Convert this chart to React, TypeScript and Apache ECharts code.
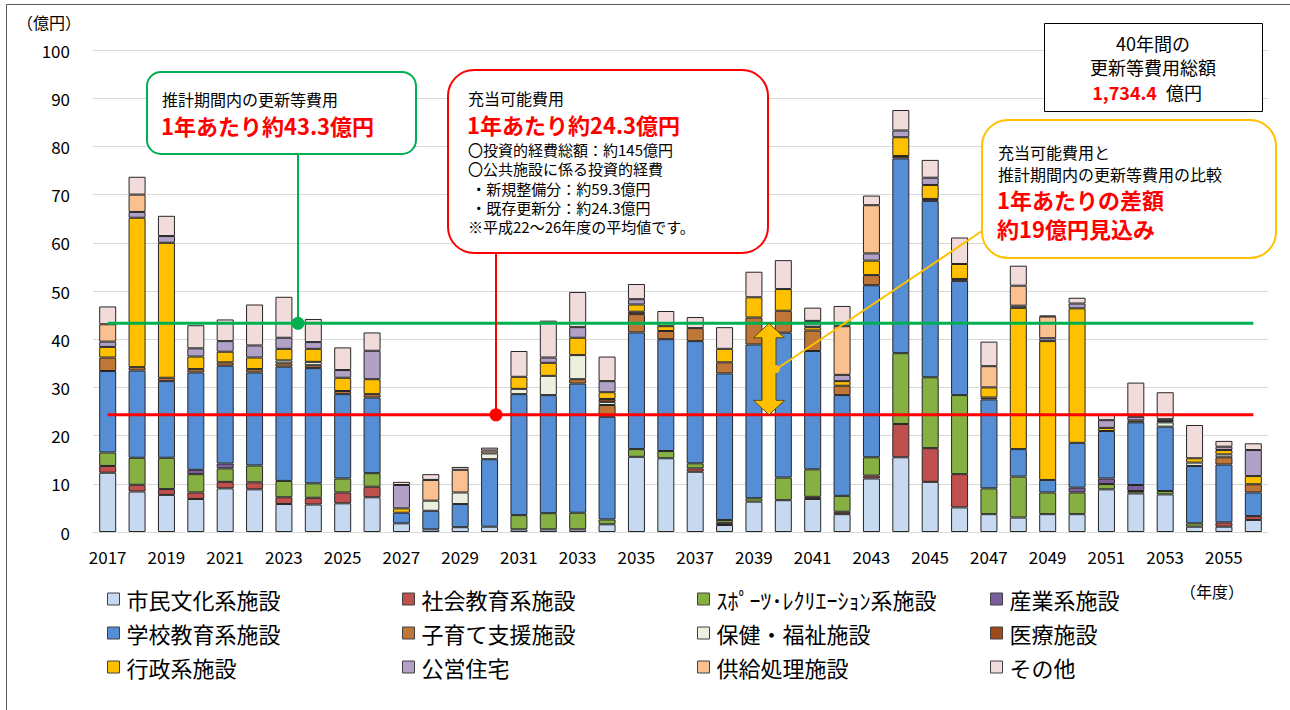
import React, { useEffect, useRef } from "react";
import * as echarts from "echarts";

const YEARS = [
  "2017", "2018", "2019", "2020", "2021", "2022", "2023", "2024", "2025", "2026",
  "2027", "2028", "2029", "2030", "2031", "2032", "2033", "2034", "2035", "2036",
  "2037", "2038", "2039", "2040", "2041", "2042", "2043", "2044", "2045", "2046",
  "2047", "2048", "2049", "2050", "2051", "2052", "2053", "2054", "2055", "2056",
];

const Y_TICKS_MAX = 100;
const Y_TICK_STEP = 10;

const NAMES = [
  "市民文化系施設", "社会教育系施設", "ｽﾎﾟｰﾂ･ﾚｸﾘｴｰｼｮﾝ系施設", "産業系施設",
  "学校教育系施設", "子育て支援施設", "保健・福祉施設", "医療施設",
  "行政系施設", "公営住宅", "供給処理施設", "その他",
];

const COLORS = [
  "#c6d9f1", "#c0504d", "#87b043", "#7b5f9c",
  "#558ed5", "#bf7637", "#ebf1de", "#9e4a1c",
  "#ffc000", "#b2a1c7", "#fac090", "#f2dcdb",
];

const shimin = [12.3, 8.4, 7.7, 6.85, 9.05, 8.85, 5.8, 5.7, 5.95, 7.2, 1.8, 0.55, 1.0, 1.1, 0.55, 0.55, 0.55, 1.6, 15.6, 15.3, 12.5, 1.45, 6.3, 6.6, 6.85, 3.7, 11.1, 15.5, 10.4, 5.1, 3.7, 3.0, 3.7, 3.7, 8.85, 8.0, 7.8, 1.1, 1.1, 2.5];
const shakai = [1.4, 1.4, 1.2, 1.35, 1.35, 1.45, 1.4, 1.4, 2.25, 2.2, 0, 0, 0, 0, 0, 0, 0, 0, 0, 0, 0.7, 0.45, 0, 0, 0.45, 0.5, 0.6, 6.9, 7.0, 6.9, 0, 0, 0, 0, 0, 0, 0, 0, 0.9, 0.8];
const sports = [2.8, 5.6, 6.5, 3.8, 2.8, 3.5, 3.4, 3.0, 2.9, 2.8, 0, 0, 0, 0, 2.95, 3.35, 3.45, 1.0, 1.6, 1.5, 1.05, 0.6, 0.7, 4.7, 5.7, 3.3, 3.8, 14.7, 14.7, 16.4, 5.35, 8.5, 4.5, 4.5, 1.1, 0.5, 0.7, 0.7, 0, 0];
const sangyo = [0, 0, 0, 0.9, 1.0, 0, 0, 0, 0, 0, 0, 0, 0, 0, 0, 0, 0, 0, 0, 0, 0, 0, 0, 0, 0, 0, 0, 0, 0, 0, 0, 0, 0, 1.0, 1.15, 1.25, 0, 0, 0, 0];
const gakko = [16.9, 18.1, 15.9, 20.2, 20.3, 19.3, 23.7, 23.9, 17.5, 15.7, 2.2, 3.85, 4.8, 14.0, 25.1, 24.5, 26.8, 21.3, 24.2, 23.2, 25.35, 30.4, 31.9, 30.05, 24.55, 20.9, 35.7, 40.4, 36.6, 23.7, 18.45, 5.7, 2.6, 9.3, 9.85, 13.0, 13.35, 11.9, 12.0, 4.9];
const kosodate = [2.8, 0.7, 0.7, 0.7, 0.7, 0.7, 0.7, 0.6, 0.65, 0.7, 0, 0, 0, 0, 0, 0, 0.9, 2.45, 3.8, 1.7, 2.7, 2.3, 5.6, 4.55, 4.25, 1.95, 2.1, 0, 0, 0, 0, 0, 0, 0, 0, 0, 0, 0, 1.5, 1.7];
const hoken = [0, 0, 0, 0, 0, 0, 0.6, 0.7, 0, 0, 0, 2.1, 2.4, 1.2, 1.1, 4.0, 5.0, 0.65, 0, 0, 0, 0, 0, 0, 0, 0, 0, 0, 0, 0, 0, 0, 0, 0, 0, 0, 0.9, 0.7, 0.6, 0];
const iryo = [0, 0, 0, 0, 0, 0, 0, 0, 0, 0, 0, 0, 0, 0, 0, 0, 0, 0.6, 0.5, 0, 0, 0, 0, 0, 0, 0, 0, 0.5, 0.4, 0.4, 0.4, 0, 0, 0, 0, 0.4, 0.3, 0, 0, 0];
const gyosei = [2.2, 31.0, 28.0, 2.6, 2.2, 2.4, 2.4, 2.7, 2.75, 3.1, 0.9, 0, 0, 0, 2.5, 2.7, 3.6, 1.4, 1.5, 1.0, 0, 2.8, 4.2, 4.5, 0.7, 0.95, 3.0, 3.9, 2.9, 3.1, 2.1, 29.3, 28.8, 27.9, 0.65, 0, 0, 0.9, 0.9, 1.7];
const koei = [1.1, 1.2, 1.4, 1.7, 2.2, 2.5, 2.3, 1.4, 1.6, 5.9, 4.85, 0, 0, 0, 0, 1.1, 2.2, 2.3, 1.1, 0, 0, 0, 0, 0, 1.3, 1.3, 1.5, 1.4, 1.5, 0, 0, 0.45, 0.6, 1.0, 1.6, 0.75, 0.35, 0, 0.7, 5.4];
const kyokyu = [3.6, 3.6, 0, 0, 0, 0, 0, 0, 0, 0, 0, 4.3, 4.7, 0.6, 0, 0, 0, 0, 0, 0, 0, 0, 0, 0, 0, 10.1, 10.0, 0, 0, 0, 4.4, 4.15, 4.5, 0, 0, 0, 0, 0, 0, 0];
const sonota = [3.7, 3.7, 4.2, 4.8, 4.5, 8.5, 8.5, 4.8, 4.7, 3.8, 0.65, 1.2, 0.6, 0.6, 5.35, 7.65, 7.3, 5.1, 3.15, 3.15, 2.3, 4.5, 5.3, 6.0, 2.75, 4.2, 2.0, 4.25, 3.7, 5.5, 5.1, 4.15, 0.2, 1.2, 1.1, 7.1, 5.6, 6.9, 1.2, 1.4];

const SERIES_VALUES = [shimin, shakai, sports, sangyo, gakko, kosodate, hoken, iryo, gyosei, koei, kyokyu, sonota];

const GREEN_LEVEL = 43.3;
const RED_LEVEL = 24.3;

const FONT = "'Noto Sans CJK JP', 'Noto Sans', sans-serif";

export default function App() {
  const ref = useRef<HTMLDivElement>(null);

  useEffect(() => {
    const chart = echarts.init(ref.current!, null, { renderer: "svg" });

    const LEG_X = [107, 402, 697, 990];
    const LEG_Y = [588, 622, 656];

    const barSeries = NAMES.map((name, i) => ({
      name,
      type: "bar",
      stack: "total",
      barWidth: 17,
      data: SERIES_VALUES[i].map((v) => (v === 0 ? "-" : v)),
      itemStyle: { color: COLORS[i], borderColor: "#262626", borderWidth: 1 },
      silent: true,
    }));

    const levelLine = (level: number, color: string) => ({
      type: "line",
      data: [
        [YEARS[0], level],
        [YEARS[YEARS.length - 1], level],
      ],
      symbol: "none",
      lineStyle: { color, width: 3 },
      silent: true,
      z: 5,
    });

    const legends = NAMES.map((name, i) => ({
      data: [name],
      left: LEG_X[i % 4],
      top: LEG_Y[Math.floor(i / 4)],
      padding: 0,
      icon: "rect",
      itemWidth: 12,
      itemHeight: 12,
      itemGap: 0,
      selectedMode: false,
      itemStyle: { borderColor: "#404040", borderWidth: 1 },
      textStyle: { fontSize: 22, color: "#000", fontFamily: FONT, padding: [0, 0, 0, 2] },
    }));

    const option: any = {
      animation: false,
      backgroundColor: "#fff",
      textStyle: { fontFamily: FONT },
      grid: { left: 93, right: 22, top: 50, bottom: 178, containLabel: false },
      legend: legends,
      xAxis: {
        type: "category",
        data: YEARS,
        boundaryGap: true,
        axisLine: { show: true, lineStyle: { color: "#d9d9d9", width: 1 } },
        axisTick: { show: false },
        axisLabel: { interval: 1, fontSize: 17, color: "#000", margin: 16, fontFamily: FONT },
        splitLine: { show: false },
      },
      yAxis: {
        type: "value",
        min: 0,
        max: Y_TICKS_MAX,
        interval: Y_TICK_STEP,
        axisLine: { show: false },
        axisTick: { show: false },
        axisLabel: { fontSize: 17, color: "#000", margin: 23, fontFamily: FONT },
        splitLine: { lineStyle: { color: "#d9d9d9", width: 1 } },
      },
      series: [
        ...barSeries,
        levelLine(GREEN_LEVEL, "#00b050"),
        levelLine(RED_LEVEL, "#ff0000"),
      ],
    };

    chart.setOption(option);

    const yG = chart.convertToPixel({ yAxisIndex: 0 }, GREEN_LEVEL) as number;
    const yR = chart.convertToPixel({ yAxisIndex: 0 }, RED_LEVEL) as number;

    const txt = (text: string, x: number, y: number, size: number, opts: any = {}) => ({
      type: "text",
      z: 20,
      silent: true,
      style: {
        text,
        x,
        y,
        fill: opts.fill || "#000",
        fontSize: size,
        fontWeight: opts.bold ? "bold" : "normal",
        fontFamily: FONT,
        align: opts.align || "left",
        verticalAlign: "middle",
      },
    });

    const ax = 769;
    const hw = 15.5;
    const sw = 7;
    const hh = 14.5;
    const arrowPts = [
      [ax, yG],
      [ax + hw, yG + hh],
      [ax + sw, yG + hh],
      [ax + sw, yR - hh],
      [ax + hw, yR - hh],
      [ax, yR],
      [ax - hw, yR - hh],
      [ax - sw, yR - hh],
      [ax - sw, yG + hh],
      [ax - hw, yG + hh],
    ];

    const graphic: any[] = [
      // outer frame
      { type: "rect", z: 1, silent: true, shape: { x: 6.5, y: 4.5, width: 1300, height: 720 }, style: { fill: "none", stroke: "#595959", lineWidth: 1 } },
      // axis unit labels
      txt("（億円）", 17, 22, 16),
      txt("（年度）", 1212, 591, 16, { align: "center" }),

      // total box
      { type: "rect", z: 15, silent: true, shape: { x: 1044.5, y: 23.5, width: 218, height: 88 }, style: { fill: "#fff", stroke: "#000", lineWidth: 1 } },
      txt("40年間の", 1153, 43, 18, { align: "center" }),
      txt("更新等費用総額", 1153, 67, 18, { align: "center" }),
      txt("1,734.4", 1157, 92, 18, { align: "right", bold: true, fill: "#ff0000" }),
      txt("億円", 1166, 92, 18),

      // green box
      { type: "line", z: 12, silent: true, shape: { x1: 298, y1: 154, x2: 298, y2: yG }, style: { stroke: "#00b050", lineWidth: 2 } },
      { type: "circle", z: 12, silent: true, shape: { cx: 298, cy: yG, r: 6.5 }, style: { fill: "#00b050" } },
      { type: "rect", z: 15, silent: true, shape: { x: 147, y: 72, width: 269, height: 82, r: 14 }, style: { fill: "#fff", stroke: "#00b050", lineWidth: 2 } },
      txt("推計期間内の更新等費用", 162, 99, 16),
      txt("1年あたり約43.3億円", 161, 125, 22, { bold: true, fill: "#ff0000" }),

      // red box
      { type: "line", z: 12, silent: true, shape: { x1: 496, y1: 253, x2: 496, y2: yR }, style: { stroke: "#ff0000", lineWidth: 2 } },
      { type: "circle", z: 12, silent: true, shape: { cx: 496, cy: yR, r: 6.5 }, style: { fill: "#ff0000" } },
      { type: "rect", z: 15, silent: true, shape: { x: 448, y: 70, width: 320, height: 183, r: 26 }, style: { fill: "#fff", stroke: "#ff0000", lineWidth: 2 } },
      txt("充当可能費用", 468, 98, 16),
      txt("1年あたり約24.3億円", 467, 124, 22, { bold: true, fill: "#ff0000" }),
      txt("〇投資的経費総額：約145億円", 468, 149, 15),
      txt("〇公共施設に係る投資的経費", 468, 168, 15),
      txt(" ・新規整備分：約59.3億円", 468, 188, 15),
      txt(" ・既存更新分：約24.3億円", 468, 207, 15),
      txt("※平成22～26年度の平均値です。", 468, 226, 15),

      // difference arrow and yellow box
      { type: "polygon", z: 12, silent: true, shape: { points: arrowPts }, style: { fill: "#ffc000", stroke: "#5a4a10", lineWidth: 1 } },
      { type: "line", z: 13, silent: true, shape: { x1: 778, y1: 368, x2: 982, y2: 231 }, style: { stroke: "#ffc000", lineWidth: 2 } },
      { type: "circle", z: 13, silent: true, shape: { cx: 776, cy: 369, r: 4 }, style: { fill: "#ffc000" } },
      { type: "rect", z: 15, silent: true, shape: { x: 982, y: 120, width: 294, height: 138, r: 26 }, style: { fill: "#fff", stroke: "#ffc000", lineWidth: 2 } },
      txt("充当可能費用と", 998, 152, 16),
      txt("推計期間内の更新等費用の比較", 998, 174, 16),
      txt("1年あたりの差額", 997, 199, 22, { bold: true, fill: "#ff0000" }),
      txt("約19億円見込み", 997, 228, 22, { bold: true, fill: "#ff0000" }),
    ];

    chart.setOption({ graphic });

    return () => chart.dispose();
  }, []);

  return (
    <div
      ref={ref}
      style={{ position: "fixed", left: 0, top: 0, width: 1290, height: 710, background: "#fff" }}
    />
  );
}
